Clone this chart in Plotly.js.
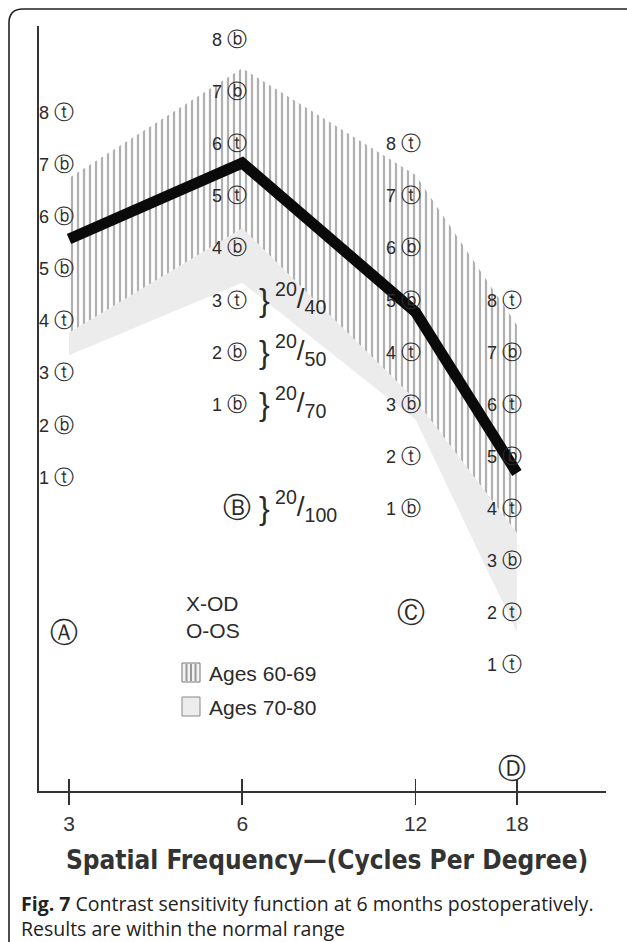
<!DOCTYPE html>
<html><head><meta charset="utf-8">
<script src="https://cdn.plot.ly/plotly-3.0.1.min.js"></script>
<style>html,body{margin:0;padding:0;background:#fff;}</style>
</head><body>
<div id="chart" style="width:627px;height:942px;"></div>
<script>
// ---- data (vertical axis is hidden, in chart "row" units) ----
const freqs = [3, 6, 12, 18];
const freqLabels = ['3', '6', '12', '18'];
// thick black curve
const curveCS = [10.16, 11.62, 8.76, 5.67];
// Ages 60-69 band (hatched)
const band6069Upper = [11.33, 13.44, 11.39, 8.51];
const band6069Lower = [8.36, 10.37, 7.07, 4.52];
// Ages 70-80 band (light grey) lower edge
const band7080Lower = [7.93, 9.32, 6.69, 2.62];

// patch labels per column (number, t/b, level)
const col3Nums = [8, 7, 6, 5, 4, 3, 2, 1];
const col3Tags = ['t', 'b', 'b', 'b', 't', 't', 'b', 't'];
const col3CS = [12.6, 11.6, 10.6, 9.6, 8.6, 7.6, 6.6, 5.6];
const col6Nums = [8, 7, 6, 5, 4, 3, 2, 1];
const col6Tags = ['b', 'b', 't', 't', 'b', 't', 'b', 'b'];
const col6CS = [14, 13, 12, 11, 10, 9, 8, 7];
const col12Nums = [8, 7, 6, 5, 4, 3, 2, 1];
const col12Tags = ['t', 't', 'b', 'b', 't', 'b', 't', 'b'];
const col12CS = [12, 11, 10, 9, 8, 7, 6, 5];
const col18Nums = [8, 7, 6, 5, 4, 3, 2, 1];
const col18Tags = ['t', 'b', 't', 'b', 't', 'b', 't', 't'];
const col18CS = [9, 8, 7, 6, 5, 4, 3, 2];
// row letters
const rowLetters = ['Ⓐ', 'Ⓑ', 'Ⓒ', 'Ⓓ'];
const rowLetterCS = [2.6, 5, 3, 0];
// Snellen equivalents (at the 6 cpd column)
const snellen = ['40', '50', '70', '100'];
const snellenCS = [9, 8, 7, 5];
const legendLabels = ['Ages 60-69', 'Ages 70-80'];

// ---- layout geometry ----
const W = 627, H = 942, ML = 39, MR = 21, MT = 26, MB = 151;
const PW = W - ML - MR, PH = H - MT - MB;
const pxX = p => (p - ML) / PW;
const pxY = p => (H - MB - p) / PH;
const lg = Math.log10;
const ink = '#2b2b2b';
const circ = {t: 'ⓣ', b: 'ⓑ'};
const XR = [0.425, 1.410];

const traces = [
  {x: freqs, y: band7080Lower, mode: 'lines', line: {width: 0}, hoverinfo: 'skip', showlegend: false},
  {x: freqs, y: band6069Lower, mode: 'lines', line: {width: 0}, fill: 'tonexty', fillcolor: '#ececec',
   name: legendLabels[1], hoverinfo: 'skip', showlegend: false},
  {x: freqs, y: band6069Upper, mode: 'lines', line: {width: 0}, fill: 'tonexty',
   fillpattern: {shape: '|', size: 6, solidity: 0.38, fgcolor: '#b0b0b0', bgcolor: 'rgba(255,255,255,0)'},
   fillcolor: 'rgba(255,255,255,0)', name: legendLabels[0], hoverinfo: 'skip', showlegend: false},
  {x: freqs, y: curveCS, mode: 'lines', line: {width: 11, color: '#0a0a0a'}, hoverinfo: 'skip', showlegend: false},
  // carrier for the upper half of the crossing ticks
  {x: freqs, y: curveCS, xaxis: 'x2', mode: 'lines', line: {width: 0}, opacity: 0, hoverinfo: 'skip', showlegend: false}
];

const ann = [];
const cols = [
  [freqs[0], col3Nums, col3Tags, col3CS],
  [freqs[1], col6Nums, col6Tags, col6CS],
  [freqs[2], col12Nums, col12Tags, col12CS],
  [freqs[3], col18Nums, col18Tags, col18CS]
];
cols.forEach(([f, nums, tags, cs]) => {
  nums.forEach((n, i) => {
    ann.push({x: lg(f), y: cs[i], xref: 'x', yref: 'y',
      text: n + ' <span style="font-size:20px">' + circ[tags[i]] + '</span>', showarrow: false,
      xanchor: 'right', yanchor: 'middle', xshift: 7,
      font: {family: 'Liberation Sans, DejaVu Sans, sans-serif', size: 18, color: ink}});
  });
});
freqs.forEach((f, i) => {
  ann.push({x: lg(f), y: rowLetterCS[i], xref: 'x', yref: 'y', text: rowLetters[i], showarrow: false,
    xanchor: 'center', yanchor: 'middle', xshift: -5,
    font: {family: 'DejaVu Sans, Liberation Sans, sans-serif', size: 28, color: ink}});
});
snellen.forEach((s, i) => {
  ann.push({x: lg(freqs[1]), y: snellenCS[i], xref: 'x', yref: 'y', text: '}', showarrow: false,
    xanchor: 'center', yanchor: 'middle', xshift: 22,
    font: {family: 'Liberation Sans, sans-serif', size: 32, color: ink}});
  ann.push({x: lg(freqs[1]), y: snellenCS[i], xref: 'x', yref: 'y',
    text: '<sup>20</sup>/<sub>' + s + '</sub>', showarrow: false,
    xanchor: 'left', yanchor: 'middle', xshift: 31, yshift: 2,
    font: {family: 'Liberation Sans, sans-serif', size: 28, color: ink}});
});
// legend text
ann.push({x: pxX(184), y: pxY(603), xref: 'paper', yref: 'paper', text: 'X-OD', showarrow: false,
  xanchor: 'left', yanchor: 'middle', font: {family: 'Liberation Sans, sans-serif', size: 21, color: ink}});
ann.push({x: pxX(184), y: pxY(630), xref: 'paper', yref: 'paper', text: 'O-OS', showarrow: false,
  xanchor: 'left', yanchor: 'middle', font: {family: 'Liberation Sans, sans-serif', size: 21, color: ink}});
legendLabels.forEach((t, i) => {
  ann.push({x: pxX(207), y: pxY(673 + 34 * i), xref: 'paper', yref: 'paper', text: t, showarrow: false,
    xanchor: 'left', yanchor: 'middle', font: {family: 'Liberation Sans, sans-serif', size: 21, color: ink}});
});
// axis title
ann.push({x: pxX(327), y: pxY(860), xref: 'paper', yref: 'paper',
  text: '<b>Spatial Frequency—(Cycles Per Degree)</b>', showarrow: false, xanchor: 'center', yanchor: 'middle',
  font: {family: 'Liberation Sans Narrow, DejaVu Sans Condensed, Liberation Sans, sans-serif', size: 26, color: '#333'}});
// caption
ann.push({x: pxX(19), y: pxY(904), xref: 'paper', yref: 'paper',
  text: '<b>Fig. 7</b> Contrast sensitivity function at 6 months postoperatively.', showarrow: false,
  xanchor: 'left', yanchor: 'middle', font: {family: 'Open Sans, sans-serif', size: 19.5, color: '#222'}});
ann.push({x: pxX(19), y: pxY(928), xref: 'paper', yref: 'paper',
  text: 'Results are within the normal range', showarrow: false,
  xanchor: 'left', yanchor: 'middle', font: {family: 'Open Sans, sans-serif', size: 19.5, color: '#222'}});

const shapes = [];
// outer rounded frame
shapes.push({type: 'path', xref: 'paper', yref: 'paper',
  path: `M ${pxX(9)},${pxY(960)} L ${pxX(9)},${pxY(23)} Q ${pxX(9)},${pxY(9)} ${pxX(23)},${pxY(9)} L ${pxX(640)},${pxY(9)}`,
  line: {color: '#222', width: 1.6}});
// legend swatches
shapes.push({type: 'rect', xref: 'paper', yref: 'paper', x0: pxX(182), x1: pxX(200), y0: pxY(682), y1: pxY(663),
  fillcolor: '#f3f3f3', line: {color: '#777', width: 1}});
[186.5, 191, 195.5].forEach(p => shapes.push({type: 'line', xref: 'paper', yref: 'paper',
  x0: pxX(p), x1: pxX(p), y0: pxY(681), y1: pxY(664), line: {color: '#999', width: 2}}));
shapes.push({type: 'rect', xref: 'paper', yref: 'paper', x0: pxX(182), x1: pxX(200), y0: pxY(716), y1: pxY(697),
  fillcolor: '#ededed', line: {color: '#888', width: 1}});

const layout = {
  width: W, height: H, margin: {l: ML, r: MR, t: MT, b: MB, pad: 0},
  paper_bgcolor: '#fff', plot_bgcolor: 'rgba(0,0,0,0)', showlegend: false,
  xaxis: {type: 'log', range: XR, showgrid: false, zeroline: false, showline: true,
    linecolor: '#333', linewidth: 1.6, ticks: 'outside', ticklen: 12, tickwidth: 1.6, tickcolor: '#333',
    tickvals: freqs, ticktext: freqLabels,
    ticklabelstandoff: 1, tickfont: {family: 'Liberation Sans, sans-serif', size: 21, color: '#333'}},
  xaxis2: {type: 'log', range: XR, overlaying: 'x', anchor: 'y', side: 'bottom', showgrid: false, zeroline: false,
    showline: false, ticks: 'inside', ticklen: 12, tickwidth: 1.6, tickcolor: '#333',
    tickvals: freqs, showticklabels: false},
  yaxis: {range: [-0.434, 14.25], showgrid: false, zeroline: false, showline: true, linecolor: '#333',
    linewidth: 1.6, ticks: '', showticklabels: false},
  annotations: ann, shapes: shapes
};
Plotly.newPlot('chart', traces, layout, {displayModeBar: false, staticPlot: true});
</script>
</body></html>
